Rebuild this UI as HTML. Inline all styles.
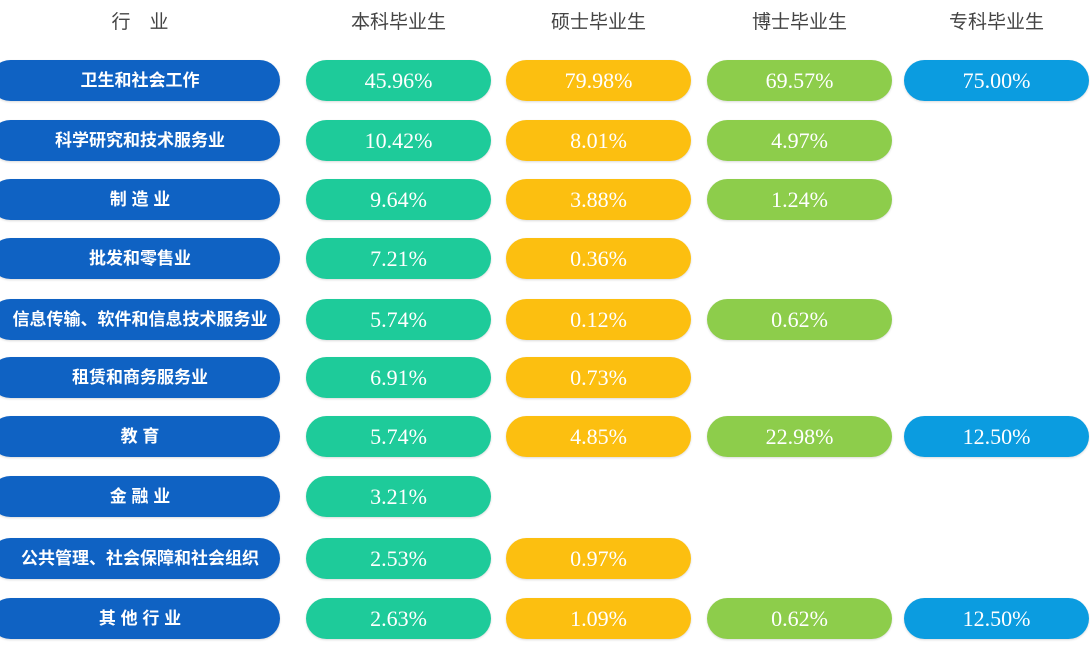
<!DOCTYPE html><html><head><meta charset="utf-8"><style>
body{margin:0;width:1090px;height:658px;background:#fff;position:relative;overflow:hidden}
.h{position:absolute;top:8px;font:19px "Liberation Sans","Noto Sans CJK SC",sans-serif;color:#444;text-align:center;line-height:30px}
.p{position:absolute;height:41px;border-radius:21px;color:#fff;text-align:center;box-shadow:0 1px 2px rgba(0,0,0,.15)}
.i{left:-10px;width:290px;background:#0f62c3;font:bold 17px "Liberation Sans","Noto Sans CJK SC",sans-serif;padding-left:10px;box-sizing:border-box;line-height:41px}
.v{font:22px "Liberation Serif",serif;width:185px;line-height:42px}
.a{left:306px;background:#1ecb9a}.b{left:506px;background:#fcbf10}.c{left:707px;background:#8dcd4b}.d{left:904px;background:#0b9ce0}
</style></head><body>
<div class="h" style="left:0;width:280px">行　业</div>
<div class="h" style="left:306px;width:185px">本科毕业生</div>
<div class="h" style="left:506px;width:185px">硕士毕业生</div>
<div class="h" style="left:707px;width:185px">博士毕业生</div>
<div class="h" style="left:904px;width:185px">专科毕业生</div>

<div class="p i" style="top:60px">卫生和社会工作</div><div class="p v a" style="top:60px">45.96%</div><div class="p v b" style="top:60px">79.98%</div><div class="p v c" style="top:60px">69.57%</div><div class="p v d" style="top:60px">75.00%</div>
<div class="p i" style="top:120px">科学研究和技术服务业</div><div class="p v a" style="top:120px">10.42%</div><div class="p v b" style="top:120px">8.01%</div><div class="p v c" style="top:120px">4.97%</div>
<div class="p i" style="top:179px">制 造 业</div><div class="p v a" style="top:179px">9.64%</div><div class="p v b" style="top:179px">3.88%</div><div class="p v c" style="top:179px">1.24%</div>
<div class="p i" style="top:238px">批发和零售业</div><div class="p v a" style="top:238px">7.21%</div><div class="p v b" style="top:238px">0.36%</div>
<div class="p i" style="top:299px">信息传输、软件和信息技术服务业</div><div class="p v a" style="top:299px">5.74%</div><div class="p v b" style="top:299px">0.12%</div><div class="p v c" style="top:299px">0.62%</div>
<div class="p i" style="top:357px">租赁和商务服务业</div><div class="p v a" style="top:357px">6.91%</div><div class="p v b" style="top:357px">0.73%</div>
<div class="p i" style="top:416px">教 育</div><div class="p v a" style="top:416px">5.74%</div><div class="p v b" style="top:416px">4.85%</div><div class="p v c" style="top:416px">22.98%</div><div class="p v d" style="top:416px">12.50%</div>
<div class="p i" style="top:476px">金 融 业</div><div class="p v a" style="top:476px">3.21%</div>
<div class="p i" style="top:538px">公共管理、社会保障和社会组织</div><div class="p v a" style="top:538px">2.53%</div><div class="p v b" style="top:538px">0.97%</div>
<div class="p i" style="top:598px">其 他 行 业</div><div class="p v a" style="top:598px">2.63%</div><div class="p v b" style="top:598px">1.09%</div><div class="p v c" style="top:598px">0.62%</div><div class="p v d" style="top:598px">12.50%</div>
</body></html>
